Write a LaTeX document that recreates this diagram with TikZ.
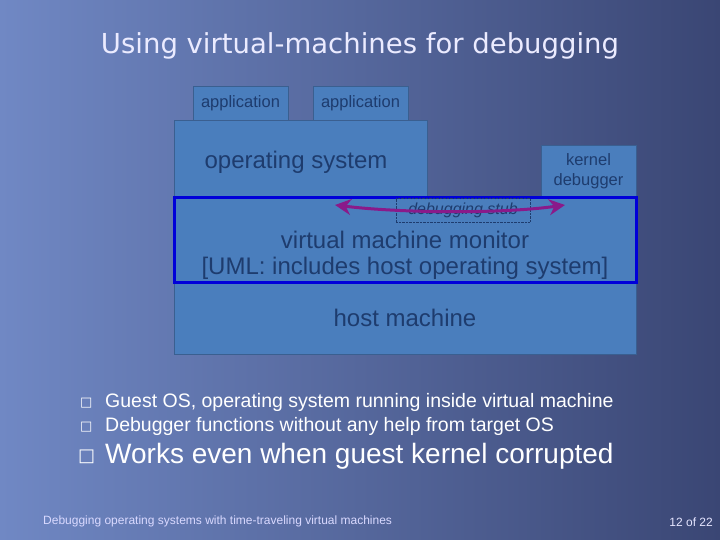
\documentclass[tikz,border=0pt]{standalone}
\usepackage{fontspec}
\setmainfont{Liberation Sans}
\newfontfamily\dejavu{DejaVu Sans}
\usetikzlibrary{arrows.meta}
\definecolor{boxfill}{HTML}{4A7EBD}
\definecolor{boxline}{HTML}{3A5F90}
\definecolor{boxtext}{HTML}{1E3C6E}
\definecolor{bgl}{HTML}{7088C4}
\definecolor{bgd}{HTML}{3A4674}
\definecolor{arrowc}{HTML}{8A1A8A}
\begin{document}
\begin{tikzpicture}[x=1pt,y=-1pt,
  blk/.style={draw=boxline,fill=boxfill,text=boxtext,inner sep=0pt},
  wtxt/.style={text=white,anchor=west,inner sep=0pt}]
\shade[left color=bgl,right color=bgd] (0,0) rectangle (720,540);
\useasboundingbox (0,0) rectangle (720,540);
\node[text=white!92!blue,font=\dejavu\fontsize{27.5}{31}\selectfont] (title) at (360,46) {Using virtual-machines for debugging};
\node[blk,minimum width=95pt,minimum height=34pt,font=\fontsize{16.5}{19}\selectfont] (app1) at (240.5,103) {application};
\node[blk,minimum width=95pt,minimum height=34pt,font=\fontsize{16.5}{19}\selectfont] (app2) at (360.5,103) {application};
\node[blk,minimum width=253pt,minimum height=77pt] (os) at (300.5,158.5) {};
\node[text=boxtext,font=\fontsize{24}{28}\selectfont] (ostext) at (296,162) {operating system};
\node[blk,minimum width=95pt,minimum height=52pt,align=center,font=\fontsize{16.5}{20}\selectfont] (kd) at (588.5,171) {kernel\\debugger};
\node[blk,minimum width=462pt,minimum height=72pt,font=\fontsize{24}{28}\selectfont] (host) at (405,318) {host machine};
\node[draw=blue!85!black,line width=3pt,fill=boxfill,minimum width=462pt,minimum height=84pt,inner sep=0pt] (vmm) at (405,240) {};
\node[text=boxtext,font=\fontsize{24}{28}\selectfont] (vmm1) at (405,240) {virtual machine monitor};
\node[text=boxtext,font=\fontsize{24}{28}\selectfont] (vmm2) at (405,268) {[UML: includes host operating system]};
\node[draw=boxtext,densely dotted,thin,minimum width=134pt,minimum height=24pt,text=boxtext,font=\itshape\fontsize{16}{18}\selectfont,inner sep=0pt] (stub) at (463,210) {debugging stub};
\coordinate (al) at (335,205);
\coordinate (ar) at (565,205);
\draw[arrowc,line width=3pt,{Stealth[length=16pt,width=16pt]}-{Stealth[length=16pt,width=16pt]}] (al) .. controls (400,213) and (500,214) .. (ar);
\node[wtxt,font=\dejavu\fontsize{13}{15}\selectfont] (b1) at (80,403) {□};
\node[wtxt,font=\dejavu\fontsize{13}{15}\selectfont] (b2) at (80,427) {□};
\node[wtxt,font=\dejavu\fontsize{18}{20}\selectfont] (b3) at (78,457) {□};
\node[wtxt,font=\fontsize{19.5}{22}\selectfont] (t1) at (105,402) {Guest OS, operating system running inside virtual machine};
\node[wtxt,font=\fontsize{19.5}{22}\selectfont] (t2) at (105,426) {Debugger functions without any help from target OS};
\node[wtxt,font=\fontsize{28}{31}\selectfont] (t3) at (105,456) {Works even when guest kernel corrupted};
\node[wtxt,text=white!85!blue,font=\fontsize{12}{14}\selectfont] (foot) at (43,521) {Debugging operating systems with time-traveling virtual machines};
\node[text=white!90!blue,anchor=east,inner sep=0pt,font=\fontsize{12}{14}\selectfont] (pg) at (713,522) {12 of 22};
\end{tikzpicture}
\end{document}
